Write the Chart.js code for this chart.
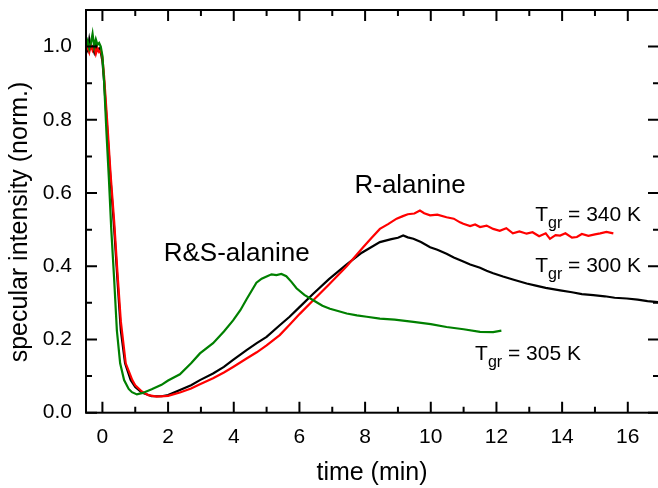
<!DOCTYPE html>
<html>
<head>
<meta charset="utf-8">
<script src="https://cdn.jsdelivr.net/npm/chart.js@4.4.0/dist/chart.umd.min.js"></script>
<style>
  html, body { margin: 0; padding: 0; background: #fff; }
</style>
</head>
<body>
<canvas id="myChart" width="658" height="488"></canvas>
<script>
// time (min), normalized specular intensity
const black300 = [
  [-0.5, 1.0], [-0.45, 0.99], [-0.4, 1.02], [-0.35, 0.995], [-0.3, 1.0], [-0.25, 0.985], [-0.2, 1.005], [-0.15, 0.99], [-0.1, 0.995], [-0.05, 0.985],
  [0, 0.96], [0.05, 0.906], [0.15, 0.77], [0.25, 0.634], [0.36, 0.5], [0.46, 0.36], [0.56, 0.225], [0.69, 0.135], [0.86, 0.089], [1.0, 0.07],
  [1.2, 0.055], [1.5, 0.045], [1.8, 0.045], [2.0, 0.048], [2.36, 0.062], [2.7, 0.075], [2.97, 0.089], [3.37, 0.107], [3.7, 0.125], [3.98, 0.144],
  [4.39, 0.171], [4.7, 0.19], [5.0, 0.207], [5.4, 0.239], [5.7, 0.262], [6.01, 0.289], [6.42, 0.325], [6.9, 0.365], [7.44, 0.405], [7.9, 0.437],
  [8.45, 0.466], [8.8, 0.474], [9.0, 0.478], [9.16, 0.484], [9.3, 0.479], [9.47, 0.475], [9.7, 0.466], [9.98, 0.452], [10.2, 0.445], [10.48, 0.434],
  [10.7, 0.424], [10.99, 0.413], [11.2, 0.405], [11.5, 0.396], [11.7, 0.388], [11.9, 0.381], [12.2, 0.372], [12.5, 0.364], [12.92, 0.353], [13.2, 0.347],
  [13.5, 0.341], [13.94, 0.334], [14.3, 0.329], [14.6, 0.324], [14.95, 0.321], [15.3, 0.318], [15.6, 0.314], [15.97, 0.312], [16.3, 0.309], [16.6, 0.305],
  [16.92, 0.302]
];
const red340 = [
  [-0.5, 0.99], [-0.45, 1.0], [-0.4, 0.985], [-0.35, 1.005], [-0.3, 0.99], [-0.25, 1.0], [-0.2, 0.98], [-0.15, 0.995], [-0.1, 0.985], [-0.05, 0.99],
  [0, 0.97], [0.05, 0.92], [0.15, 0.79], [0.25, 0.65], [0.36, 0.52], [0.46, 0.38], [0.56, 0.25], [0.71, 0.135], [0.91, 0.089], [1.0, 0.075],
  [1.2, 0.058], [1.4, 0.048], [1.65, 0.044], [2.0, 0.046], [2.36, 0.055], [2.7, 0.066], [2.97, 0.078], [3.37, 0.094], [3.7, 0.11], [3.98, 0.125],
  [4.39, 0.148], [4.7, 0.165], [5.0, 0.184], [5.4, 0.212], [5.7, 0.24], [6.01, 0.27], [6.42, 0.307], [6.9, 0.35], [7.44, 0.4], [7.94, 0.452],
  [8.2, 0.478], [8.45, 0.502], [8.7, 0.515], [8.96, 0.53], [9.15, 0.537], [9.3, 0.542], [9.5, 0.544], [9.67, 0.552], [9.8, 0.545], [9.98, 0.539],
  [10.2, 0.541], [10.48, 0.534], [10.7, 0.53], [10.89, 0.52], [10.99, 0.516], [11.2, 0.51], [11.35, 0.514], [11.5, 0.507], [11.7, 0.511], [11.9, 0.502],
  [12.1, 0.497], [12.3, 0.504], [12.5, 0.49], [12.7, 0.495], [12.92, 0.489], [13.1, 0.493], [13.3, 0.482], [13.5, 0.49], [13.63, 0.475], [13.8, 0.485],
  [13.94, 0.484], [14.1, 0.49], [14.3, 0.478], [14.45, 0.48], [14.6, 0.488], [14.8, 0.483], [15.0, 0.487], [15.16, 0.49], [15.35, 0.494], [15.56, 0.49]
];
const green305 = [
  [-0.5, 1.0], [-0.45, 1.015], [-0.4, 0.995], [-0.35, 1.01], [-0.3, 1.035], [-0.25, 1.0], [-0.2, 1.02], [-0.15, 1.005], [-0.1, 1.01], [-0.05, 1.0],
  [0, 0.975], [0.05, 0.906], [0.12, 0.77], [0.2, 0.634], [0.27, 0.5], [0.36, 0.36], [0.44, 0.225], [0.54, 0.135], [0.66, 0.089], [0.8, 0.065],
  [0.9, 0.056], [1.05, 0.05], [1.23, 0.054], [1.5, 0.064], [1.8, 0.076], [2.0, 0.088], [2.36, 0.105], [2.7, 0.135], [2.97, 0.162], [3.37, 0.19],
  [3.7, 0.222], [3.98, 0.252], [4.2, 0.28], [4.39, 0.31], [4.69, 0.355], [4.85, 0.366], [5.0, 0.372], [5.15, 0.378], [5.3, 0.376], [5.45, 0.379],
  [5.6, 0.373], [5.75, 0.358], [5.91, 0.34], [6.15, 0.322], [6.42, 0.307], [6.7, 0.292], [6.93, 0.284], [7.2, 0.277], [7.44, 0.271], [7.75, 0.266],
  [8.05, 0.262], [8.45, 0.257], [8.9, 0.254], [9.47, 0.248], [10.0, 0.242], [10.48, 0.234], [11.0, 0.228], [11.5, 0.221], [11.9, 0.22], [12.15, 0.224]
];

const xTicks = [0, 2, 4, 6, 8, 10, 12, 14, 16];
const xMinor = [1, 3, 5, 7, 9, 11, 13, 15];
const yTicks = [0, 0.2, 0.4, 0.6, 0.8, 1.0];
const yMinor = [0.1, 0.3, 0.5, 0.7, 0.9];

// text labels: [text, x, y]
const labels = [
  ["R&S-alanine", 4.09, 0.415],
  ["R-alanine", 9.37, 0.6]
];
const tempLabels = [
  ["340 K", 13.18, 0.525],
  ["300 K", 13.18, 0.383],
  ["305 K", 11.35, 0.143]
];
const yTitle = "specular intensity (norm.)";

const FONT = "'Liberation Sans', Arial, sans-serif";

function toXY(arr) {
  return arr.map((p) => ({ x: p[0], y: p[1] }));
}

const framePlugin = {
  id: "frame",
  afterDatasetsDraw(chart) {
    const { ctx, chartArea: a, scales: { x, y } } = chart;
    const right = a.right + 1;
    ctx.save();
    ctx.strokeStyle = "#000";
    ctx.lineWidth = 2;
    ctx.strokeRect(a.left, a.top, right - a.left, a.bottom - a.top);
    ctx.beginPath();
    const xt = (v, len) => {
      let px = x.getPixelForValue(v);
      ctx.moveTo(px, a.bottom); ctx.lineTo(px, a.bottom - len);
      ctx.moveTo(px, a.top); ctx.lineTo(px, a.top + len);
    };
    const yt = (v, len) => {
      let py = y.getPixelForValue(v);
      ctx.moveTo(a.left, py); ctx.lineTo(a.left + len, py);
      ctx.moveTo(right, py); ctx.lineTo(right - len, py);
    };
    xTicks.forEach((v) => xt(v, 11));
    xMinor.forEach((v) => xt(v, 6));
    yTicks.forEach((v) => yt(v, 11));
    yMinor.forEach((v) => yt(v, 6));
    ctx.stroke();

    ctx.fillStyle = "#000";
    ctx.textBaseline = "alphabetic";
    ctx.font = "26px " + FONT;
    ctx.textAlign = "center";
    labels.forEach((l) => {
      ctx.fillText(l[0], x.getPixelForValue(l[1]), y.getPixelForValue(l[2]));
    });
    ctx.textAlign = "left";
    tempLabels.forEach((l) => {
      let px = x.getPixelForValue(l[1]);
      let py = y.getPixelForValue(l[2]);
      ctx.font = "21px " + FONT;
      ctx.fillText("T", px, py);
      px += ctx.measureText("T").width;
      ctx.font = "16px " + FONT;
      ctx.fillText("gr", px, py + 7);
      px += ctx.measureText("gr").width;
      ctx.font = "21px " + FONT;
      ctx.fillText(" = " + l[0], px, py);
    });

    // y axis title
    ctx.translate(20, 222);
    ctx.rotate(-Math.PI / 2);
    ctx.textAlign = "center";
    ctx.textBaseline = "middle";
    ctx.font = "25px " + FONT;
    ctx.fillText(yTitle, 0, 0);
    ctx.restore();
  },
};

const ctx = document.getElementById("myChart").getContext("2d");
const chart = new Chart(ctx, {
  type: "line",
  data: {
    datasets: [
      { label: "305 K", data: toXY(green305), borderColor: "#008000" },
      { label: "340 K", data: toXY(red340), borderColor: "#ff0000" },
      { label: "300 K", data: toXY(black300), borderColor: "#000000" },
    ],
  },
  options: {
    responsive: false,
    animation: false,
    layout: { padding: { top: 10, right: 0, left: 0, bottom: 0 } },
    elements: {
      point: { radius: 0 },
      line: { borderWidth: 2.2, tension: 0 },
    },
    plugins: { legend: { display: false }, tooltip: { enabled: false } },
    scales: {
      x: {
        type: "linear",
        min: -0.5,
        max: 16.92,
        afterBuildTicks: (s) => { s.ticks = xTicks.map((v) => ({ value: v })); },
        afterFit: (s) => { s.height = 75.3; s.paddingLeft = 0; s.paddingRight = 0; },
        grid: { display: false, drawTicks: false },
        border: { display: false },
        ticks: { color: "#000", padding: 12, maxRotation: 0, autoSkip: false, font: { family: FONT, size: 21 } },
        title: { display: true, text: "time (min)", color: "#000", padding: { top: 0, bottom: 0 }, font: { family: FONT, size: 25 } },
      },
      y: {
        min: 0,
        max: 1.1,
        afterBuildTicks: (s) => { s.ticks = yTicks.map((v) => ({ value: v })); },
        afterFit: (s) => { s.width = 86; s.paddingTop = 0; s.paddingBottom = 0; },
        grid: { display: false, drawTicks: false },
        border: { display: false },
        ticks: { color: "#000", padding: 14, callback: (v) => v.toFixed(1), font: { family: FONT, size: 21 } },
        title: { display: false },
      },
    },
  },
  plugins: [framePlugin],
});
</script>
</body>
</html>
